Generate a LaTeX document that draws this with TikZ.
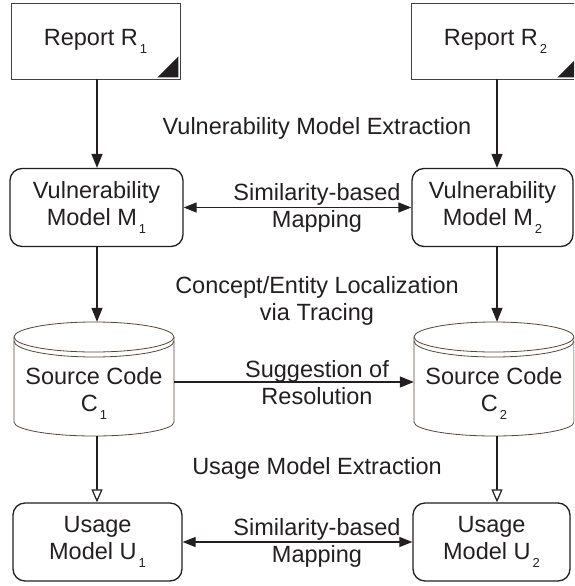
\documentclass[tikz,border=0pt]{standalone}
\usepackage{fontspec}
\setmainfont{Liberation Sans}
\usetikzlibrary{arrows.meta}
\definecolor{ink}{RGB}{35,31,32}
\definecolor{drum}{RGB}{85,70,58}
\newcommand{\subidx}[1]{\kern2pt\raisebox{-8pt}{\fontsize{13}{13}\selectfont #1}}
\tikzset{
  txt/.style={font=\fontsize{23.5}{27}\selectfont, text=ink, align=center, inner sep=0pt},
  report/.style={txt, draw=ink!85, line width=0.9pt, minimum width=169pt, minimum height=76pt},
  modelbox/.style={txt, draw=ink, line width=1.3pt, rounded corners=12pt, minimum height=78pt},
  drumbody/.style={txt, minimum width=160pt, minimum height=114pt},
  conn/.style={draw=ink, line width=1.2pt},
  solidhead/.style={conn, -{Triangle[length=14pt,width=11pt]}},
  openhead/.style={conn, -{Triangle[open,length=13pt,width=11pt,fill=white]}},
  bothhead/.style={conn, {Triangle[length=13pt,width=10pt]}-{Triangle[length=13pt,width=10pt]}},
}
\begin{document}
\begin{tikzpicture}[x=1pt,y=1pt]
\useasboundingbox (0,0) rectangle (574,-586);
\clip (0,0) rectangle (574,-586);

% reports
\node[report] (r1) at (95.5,-41) {Report R\subidx{1}};
\node[report] (r2) at (495.5,-41) {Report R\subidx{2}};
\fill[ink] ([shift={(-2,2)}]r1.south east) -- ++(-21,0) -- ++(21,21) -- cycle;
\fill[ink] ([shift={(-2,2)}]r2.south east) -- ++(-21,0) -- ++(21,21) -- cycle;

% vulnerability models
\node[modelbox, minimum width=173pt] (m1) at (96.5,-207.5) {Vulnerability\\Model M\subidx{1}};
\node[modelbox, minimum width=161pt] (m2) at (492.5,-207.5) {Vulnerability\\Model M\subidx{2}};

% source code drums
\node[drumbody] (c1) at (94,-379) {\raisebox{-20pt}[0pt][0pt]{\begin{tabular}{@{}c@{}}Source Code\\C\subidx{1}\end{tabular}}};
\node[drumbody] (c2) at (494,-379) {\raisebox{-20pt}[0pt][0pt]{\begin{tabular}{@{}c@{}}Source Code\\C\subidx{2}\end{tabular}}};
\foreach \c in {c1,c2}{
  \begin{scope}[shift={(\c.center)}, draw=drum, line width=0.8pt]
    \draw (0,42) ellipse [x radius=80, y radius=15];
    \draw (-80,38) arc[start angle=180, end angle=360, x radius=80, y radius=16];
    \draw (-80,42) -- (-80,-43) arc[start angle=180, end angle=360, x radius=80, y radius=14] -- (80,42);
  \end{scope}
}

% usage models
\node[modelbox, minimum width=169pt] (u1) at (97.5,-542) {Usage\\Model U\subidx{1}};
\node[modelbox, minimum width=157pt] (u2) at (491.5,-542) {Usage\\Model U\subidx{2}};

% vertical connectors
\draw[solidhead] (r1.south -| 97,0) -- (m1.north -| 97,0);
\draw[solidhead] (r2.south -| 497,0) -- (m2.north -| 497,0);
\draw[solidhead] (m1.south -| 97,0) -- (c1.north -| 97,0);
\draw[solidhead] (m2.south -| 497,0) -- (c2.north -| 497,0);
\draw[openhead] (c1.south -| 97,0) -- (u1.north -| 97,0);
\draw[openhead] (c2.south -| 497,0) -- (u2.north -| 497,0);

% horizontal connectors
\draw[bothhead] (m1.east) -- (m2.west);
\draw[solidhead] ([yshift=-3pt]c1.east) -- ([yshift=-3pt]c2.west);
\draw[bothhead] (u1.east) -- (u2.west);

% labels
\node[txt] (l1) at (317,-128) {Vulnerability Model Extraction};
\node[txt] (l2) at (317,-208) {Similarity-based\\Mapping};
\node[txt] (l3) at (317,-301) {Concept/Entity Localization\\via Tracing};
\node[txt] (l4) at (317,-383) {Suggestion of\\Resolution};
\node[txt] (l5) at (317,-468) {Usage Model Extraction};
\node[txt] (l6) at (317,-543) {Similarity-based\\Mapping};
\end{tikzpicture}
\end{document}
